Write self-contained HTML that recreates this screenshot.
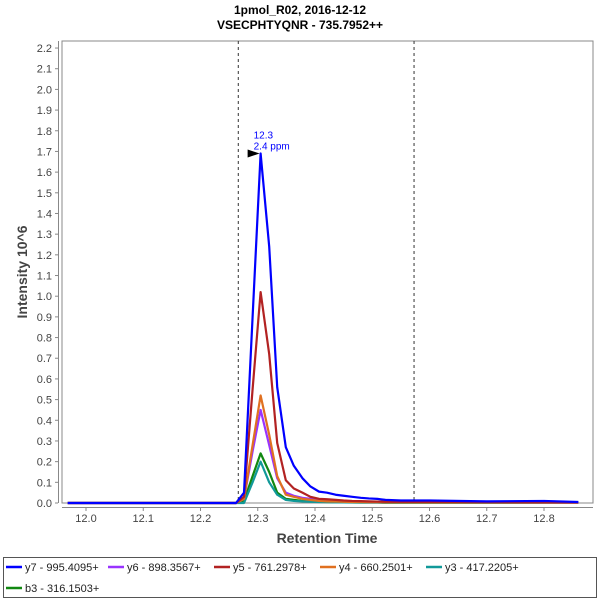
<!DOCTYPE html>
<html><head><style>
body{margin:0;background:#fff;font-family:"Liberation Sans",sans-serif;}
</style></head><body>
<svg width="600" height="600" xmlns="http://www.w3.org/2000/svg" font-family="Liberation Sans, sans-serif">
<text x="300" y="14" text-anchor="middle" font-size="12" font-weight="bold">1pmol_R02, 2016-12-12</text>
<text x="300" y="29" text-anchor="middle" font-size="12" font-weight="bold">VSECPHTYQNR - 735.7952++</text>
<rect x="62" y="41" width="531" height="462" fill="#fff" stroke="#888"/>
<g id="yaxis"></g>
<g id="xaxis"></g>
<g id="series"></g>
<text transform="translate(27,272) rotate(-90)" text-anchor="middle" font-size="14" font-weight="bold" fill="#444">Intensity 10^6</text>
<text x="327" y="543" text-anchor="middle" font-size="14" font-weight="bold" fill="#444">Retention Time</text>
<rect x="3.5" y="557.5" width="593" height="40" fill="#fff" stroke="#555"/>
<g id="legend"></g>
</svg>
<script>
const times=[12.262,12.276,12.291,12.305,12.320,12.334,12.349,12.363,12.378,12.392,12.407,12.421,12.436,12.450,12.465,12.480,12.494,12.509,12.523];
const seriesNames=["y7 - 995.4095+","y6 - 898.3567+","y5 - 761.2978+","y4 - 660.2501+","y3 - 417.2205+","b3 - 316.1503+"];
const seriesColors=["#0000ff","#9933ff","#b22222","#e07020","#119999","#118811"];
const y7=[0.0,0.05,0.9,1.69,1.24,0.56,0.27,0.18,0.12,0.08,0.055,0.05,0.04,0.035,0.03,0.025,0.022,0.02,0.015];
const y6=[0.0,0.02,0.25,0.45,0.28,0.12,0.05,0.035,0.025,0.02,0.015,0.012,0.01,0.008,0.007,0.006,0.005,0.005,0.004];
const y5=[0.0,0.03,0.55,1.02,0.72,0.29,0.11,0.07,0.05,0.03,0.02,0.018,0.015,0.012,0.01,0.009,0.008,0.007,0.006];
const y4=[0.0,0.02,0.28,0.52,0.33,0.13,0.04,0.03,0.02,0.015,0.01,0.008,0.007,0.006,0.005,0.005,0.004,0.004,0.003];
const y3=[0.0,0.0,0.1,0.2,0.1,0.04,0.015,0.01,0.008,0.006,0.005,0.004,0.003,0.003,0.002,0.002,0.002,0.002,0.001];
const b3=[0.0,0.01,0.13,0.24,0.15,0.05,0.02,0.015,0.01,0.008,0.006,0.005,0.004,0.003,0.003,0.002,0.002,0.002,0.001];
const tailTimes=[12.55,12.6,12.7,12.8,12.86];
const tailY7=[0.012,0.012,0.008,0.01,0.005];
const yTicks=[0.0,0.1,0.2,0.3,0.4,0.5,0.6,0.7,0.8,0.9,1.0,1.1,1.2,1.3,1.4,1.5,1.6,1.7,1.8,1.9,2.0,2.1,2.2];
const xTicks=[12.0,12.1,12.2,12.3,12.4,12.5,12.6,12.7,12.8];
const dashTimes=[12.266,12.573];
const NS="http://www.w3.org/2000/svg";
const X=t=>86+(t-12.0)*572.5;
const Y=v=>503-v*206.8;
function mk(tag,attrs,parent){const e=document.createElementNS(NS,tag);for(const k in attrs)e.setAttribute(k,attrs[k]);parent.appendChild(e);return e;}
const ya=document.getElementById('yaxis'),xa=document.getElementById('xaxis'),sg=document.getElementById('series'),lg=document.getElementById('legend');
mk('line',{x1:58.5,y1:41,x2:58.5,y2:503,stroke:'#888'},ya);
yTicks.forEach(v=>{const y=Y(v);mk('line',{x1:55,y1:y,x2:58,y2:y,stroke:'#888'},ya);
const t=mk('text',{x:52,y:y+4,'text-anchor':'end','font-size':11,fill:'#444'},ya);t.textContent=v.toFixed(1);

});
mk('line',{x1:62,y1:507.5,x2:593,y2:507.5,stroke:'#888'},xa);
xTicks.forEach(v=>{const x=X(v);mk('line',{x1:x,y1:507,x2:x,y2:511,stroke:'#888'},xa);
const t=mk('text',{x:x,y:522,'text-anchor':'middle','font-size':11,fill:'#444'},xa);t.textContent=v.toFixed(1);

});
dashTimes.forEach(d=>{const l=mk('line',{x1:X(d),y1:41,x2:X(d),y2:503,stroke:'#333','stroke-dasharray':'3,3'},sg);

});
const all=[y7,y6,y5,y4,y3,b3];
[5,4,1,3,2,0].forEach(i=>{
  let pts=[[11.968,0],[12.25,0]];
  times.forEach((t,j)=>pts.push([t,all[i][j]]));
  if(i===0){tailTimes.forEach((t,j)=>pts.push([t,tailY7[j]]));}
  else pts.push([12.86,0.002]);
  const p=mk('polyline',{points:pts.map(p=>X(p[0])+','+Y(p[1])).join(' '),fill:'none',stroke:seriesColors[i],'stroke-width':2.2,'stroke-linejoin':'round'},sg);
  
  
});
const pk=X(times[3]),pv=Y(y7[3]);
mk('polygon',{points:`${pk-13},${pv-4} ${pk-1},${pv} ${pk-13},${pv+4}`,fill:'#000'},sg);
const a1=mk('text',{x:pk-7,y:pv-15,'font-size':10,fill:'#0000ff'},sg);a1.textContent='12.3';


const a2=mk('text',{x:pk-7,y:pv-4,'font-size':10,fill:'#0000ff'},sg);a2.textContent='2.4 ppm';


const lpos=[[6,567],[108,567],[214,567],[320,567],[426,567],[6,588]];
seriesNames.forEach((n,i)=>{const g=mk('g',{},lg);


const [x,y]=lpos[i];
mk('line',{x1:x,y1:y,x2:x+16,y2:y,stroke:seriesColors[i],'stroke-width':2.5},g);
const t=mk('text',{x:x+19,y:y+4,'font-size':11,fill:'#222'},g);t.textContent=n;});
</script>
</body></html>
